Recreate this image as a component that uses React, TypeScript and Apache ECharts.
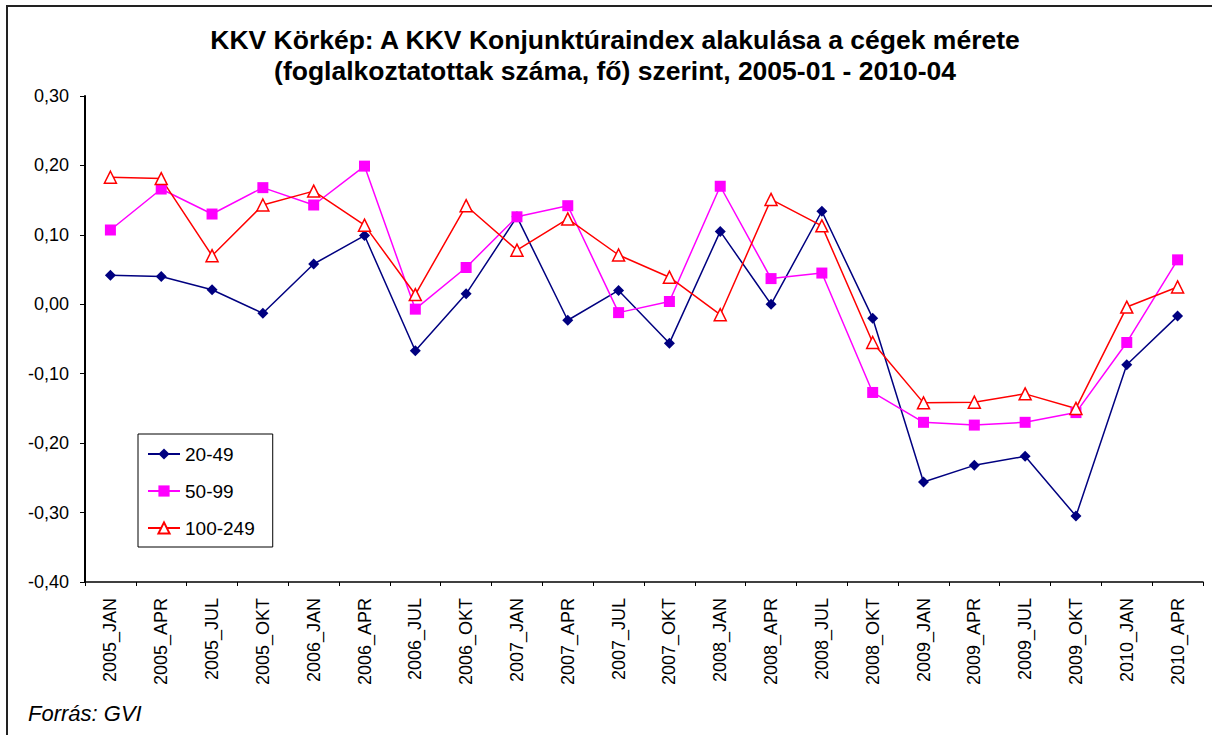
import React, { useEffect, useRef } from "react";
import * as echarts from "echarts";

const categories = [
  "2005_JAN", "2005_APR", "2005_JUL", "2005_OKT",
  "2006_JAN", "2006_APR", "2006_JUL", "2006_OKT",
  "2007_JAN", "2007_APR", "2007_JUL", "2007_OKT",
  "2008_JAN", "2008_APR", "2008_JUL", "2008_OKT",
  "2009_JAN", "2009_APR", "2009_JUL", "2009_OKT",
  "2010_JAN", "2010_APR",
];

const s20_49 = [0.042, 0.040, 0.021, -0.013, 0.058, 0.099, -0.067, 0.015, 0.126, -0.023, 0.020, -0.056, 0.105, 0.000, 0.134, -0.020, -0.256, -0.232, -0.219, -0.305, -0.087, -0.017];
const s50_99 = [0.107, 0.166, 0.130, 0.168, 0.143, 0.199, -0.007, 0.053, 0.126, 0.142, -0.012, 0.004, 0.170, 0.037, 0.045, -0.127, -0.170, -0.174, -0.170, -0.156, -0.055, 0.064];
const s100_249 = [0.183, 0.181, 0.070, 0.143, 0.163, 0.114, 0.014, 0.142, 0.078, 0.123, 0.071, 0.039, -0.015, 0.151, 0.113, -0.055, -0.142, -0.141, -0.129, -0.150, -0.004, 0.025];

const seriesNames = ["20-49", "50-99", "100-249"];
const titleText = "KKV Körkép: A KKV Konjunktúraindex alakulása a cégek mérete\n(foglalkoztatottak száma, fő) szerint, 2005-01 - 2010-04";
const sourceText = "Forrás: GVI";

const FONT = '"Liberation Sans", Arial, sans-serif';

export default function App() {
  const ref = useRef<HTMLDivElement>(null);

  useEffect(() => {
    if (!ref.current) return;
    const chart = echarts.init(ref.current, undefined, { renderer: "svg" });
    chart.setOption({
      animation: false,
      backgroundColor: "#ffffff",
      textStyle: { fontFamily: FONT },
      title: {
        text: titleText,
        left: 615,
        top: 24,
        padding: 0,
        textAlign: "center",
        textStyle: {
          fontFamily: FONT,
          fontSize: 26.5,
          fontWeight: "bold",
          color: "#000",
          lineHeight: 31,
        },
      },
      legend: {
        orient: "vertical",
        left: 138,
        top: 434,
        padding: [10.5, 18, 9.5, 9],
        itemWidth: 32,
        itemHeight: 14,
        itemGap: 18,
        borderColor: "#000",
        borderWidth: 1,
        backgroundColor: "#fff",
        textStyle: { fontFamily: FONT, fontSize: 19, color: "#000" },
        data: seriesNames,
      },
      grid: { left: 85, right: 9, top: 96, bottom: 153, containLabel: false },
      xAxis: {
        type: "category",
        data: categories,
        boundaryGap: true,
        axisLine: { onZero: false, lineStyle: { color: "#000", width: 1.5 } },
        axisTick: { show: true, alignWithLabel: false, length: 4, lineStyle: { color: "#000" } },
        axisLabel: {
          rotate: 90,
          interval: 0,
          margin: 16,
          fontFamily: FONT,
          fontSize: 18,
          color: "#000",
        },
        splitLine: { show: false },
      },
      yAxis: {
        type: "value",
        min: -0.4,
        max: 0.3,
        interval: 0.1,
        axisLine: { show: true, lineStyle: { color: "#000", width: 2 } },
        axisTick: { show: true, length: 5, lineStyle: { color: "#000" } },
        axisLabel: {
          margin: 16,
          fontFamily: FONT,
          fontSize: 18,
          color: "#000",
          formatter: (v: number) => v.toFixed(2).replace(".", ","),
        },
        splitLine: { show: false },
      },
      series: [
        {
          name: seriesNames[0],
          type: "line",
          data: s20_49,
          symbol: "diamond",
          symbolSize: 11,
          itemStyle: { color: "#000080" },
          lineStyle: { color: "#000080", width: 1.5 },
        },
        {
          name: seriesNames[1],
          type: "line",
          data: s50_99,
          symbol: "rect",
          symbolSize: 11,
          itemStyle: { color: "#FF00FF" },
          lineStyle: { color: "#FF00FF", width: 1.5 },
        },
        {
          name: seriesNames[2],
          type: "line",
          data: s100_249,
          symbol: "triangle",
          symbolSize: 12,
          itemStyle: { color: "#ffffff", borderColor: "#FF0000", borderWidth: 1.5 },
          lineStyle: { color: "#FF0000", width: 1.5 },
        },
      ],
      graphic: [
        {
          type: "line",
          shape: { x1: 7, y1: 6, x2: 7, y2: 735 },
          style: { stroke: "#222", lineWidth: 2 },
        },
        {
          type: "line",
          shape: { x1: 6, y1: 6, x2: 1212, y2: 6 },
          style: { stroke: "#222", lineWidth: 2 },
        },
        {
          type: "text",
          left: 28,
          top: 702,
          style: {
            text: sourceText,
            fontFamily: FONT,
            fontSize: 22,
            fontStyle: "italic",
            fill: "#000",
          },
        },
      ],
    });
    return () => chart.dispose();
  }, []);

  return (
    <div
      ref={ref}
      style={{ position: "absolute", left: 0, top: 0, width: 1212, height: 735 }}
    />
  );
}
